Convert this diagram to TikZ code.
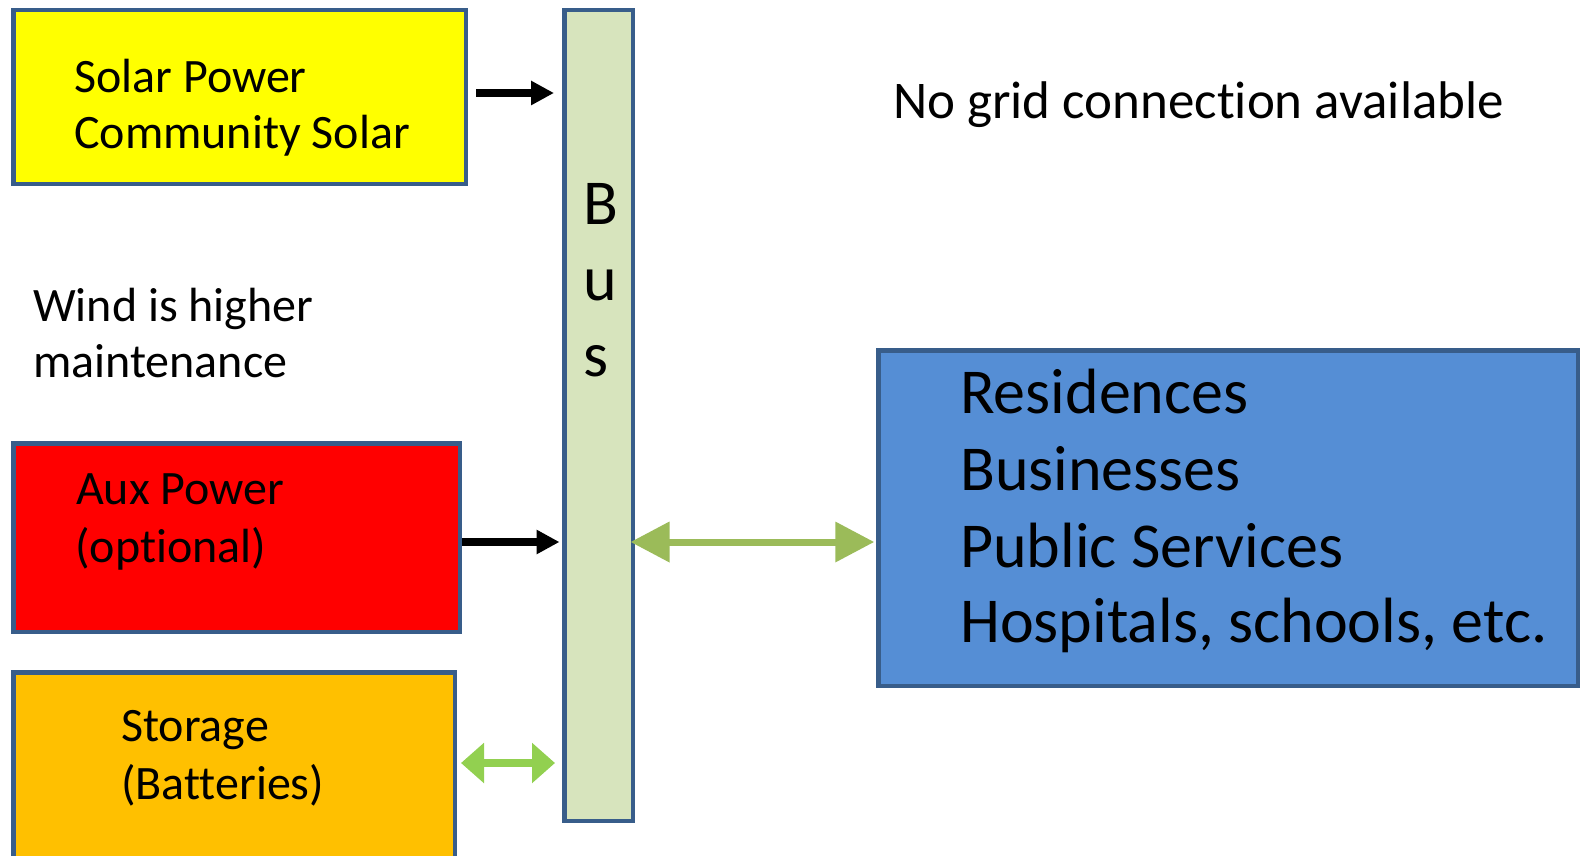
\documentclass[tikz,border=0pt]{standalone}
\usepackage{fontspec}
\setmainfont{Carlito}[Ligatures=NoCommon]
\usetikzlibrary{arrows.meta}
\definecolor{edgeblue}{HTML}{385D8A}
\definecolor{busgreen}{HTML}{D7E4BD}
\definecolor{loadblue}{HTML}{558ED5}
\definecolor{storeorange}{HTML}{FFC000}
\definecolor{solaryellow}{HTML}{FFFF00}
\definecolor{arrowgreen}{HTML}{9BBB59}
\definecolor{lightgreen}{HTML}{92D050}
\tikzset{
  box/.style={draw=edgeblue, line width=4.5pt, rectangle, inner sep=0pt},
  txt/.style={anchor=base west, inner sep=0pt, font=\fontsize{48}{57}\selectfont},
  bigtxt/.style={anchor=base west, inner sep=0pt, font=\fontsize{64}{76}\selectfont},
  midtxt/.style={anchor=base west, inner sep=0pt, font=\fontsize{53}{64}\selectfont},
  blackarrow/.style={line width=8pt, -{Triangle[length=23pt,width=23pt]}},
  greenarrow/.style={line width=7pt, arrowgreen, {Triangle[length=39pt,width=39pt]}-{Triangle[length=39pt,width=39pt]}},
  smallarrow/.style={line width=8pt, lightgreen, {Triangle[length=23pt,width=39pt]}-{Triangle[length=23pt,width=39pt]}}
}
\begin{document}
\begin{tikzpicture}[x=1pt,y=-1pt]
\useasboundingbox (0,0) rectangle (1581,856);
% boxes
\node[box, fill=solaryellow, minimum width=452.5pt, minimum height=173.5pt] (solar) at (239.5,97) {};
\node[box, fill=red, minimum width=446.5pt, minimum height=188.5pt] (aux) at (236.5,537.5) {};
\node[box, fill=storeorange, minimum width=441.5pt, minimum height=225.5pt] (store) at (234,785) {};
\node[box, fill=busgreen, minimum width=68.5pt, minimum height=810.5pt] (bus) at (598.5,415.5) {};
\node[box, fill=loadblue, minimum width=699.5pt, minimum height=335.5pt] (load) at (1228.25,518) {};
% texts
\node[txt] (t1) at (74,93) {Solar Power};
\node[txt] (t2) at (74,149) {Community Solar};
\node[txt] (t3) at (33,321) {Wind is higher};
\node[txt] (t4) at (33,377) {maintenance};
\node[txt] (t5) at (76,504) {Aux Power};
\node[txt] (t6) at (75,562) {(optional)};
\node[txt] (t7) at (121,741) {Storage};
\node[txt] (t8) at (121,799) {(Batteries)};
\node[midtxt] (t9) at (893,119) {No grid connection available};
\node[bigtxt] (b1) at (583,224) {B};
\node[bigtxt] (b2) at (583,300) {u};
\node[bigtxt] (b3) at (583,376) {s};
\node[bigtxt] (r1) at (960,413) {Residences};
\node[bigtxt] (r2) at (960,490) {Businesses};
\node[bigtxt] (r3) at (960,567) {Public Services};
\node[bigtxt] (r4) at (960,642) {Hospitals, schools, etc.};
% connectors
\coordinate (sa) at ([xshift=8pt,yshift=4pt]solar.east);
\draw[blackarrow, shorten >=8pt] (sa) -- (sa -| bus.west);
\coordinate (aa) at ([yshift=-4.5pt]aux.east);
\draw[blackarrow, shorten >=2.5pt] (aa) -- (aa -| bus.west);
\coordinate (ga) at ([yshift=-24pt]load.west);
\draw[greenarrow, shorten <=-4.5pt, shorten >=2pt] (ga -| bus.east) -- (ga);
\coordinate (ka) at ([xshift=4pt,yshift=22pt]store.east);
\draw[smallarrow, shorten >=7pt] (ka) -- (ka -| bus.west);
\end{tikzpicture}
\end{document}
